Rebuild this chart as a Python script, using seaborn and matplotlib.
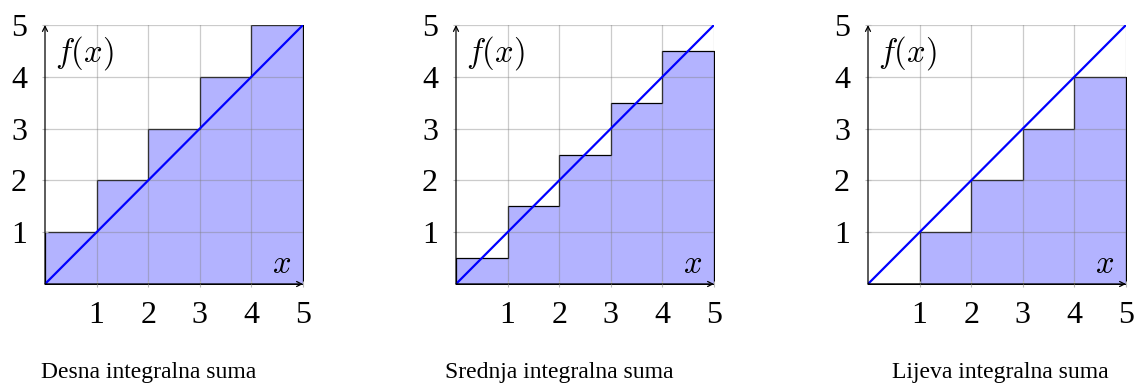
import numpy as np
import matplotlib
matplotlib.use("Agg")
import matplotlib.pyplot as plt
import seaborn as sns

# ---- data ----
bin_edges = [0, 1, 2, 3, 4, 5]
bin_left = [0, 1, 2, 3, 4]
desna_vals = [1, 2, 3, 4, 5]
srednja_vals = [0.5, 1.5, 2.5, 3.5, 4.5]
lijeva_vals = [0, 1, 2, 3, 4]
line_x = [0, 5]
line_y = [0, 5]
tick_vals = [1, 2, 3, 4, 5]
tick_labels = ["1", "2", "3", "4", "5"]
captions = ["Desna integralna suma", "Srednja integralna suma", "Lijeva integralna suma"]
panel_vals = [desna_vals, srednja_vals, lijeva_vals]

plt.rcParams['mathtext.fontset'] = 'cm'
plt.rcParams['font.family'] = ['Liberation Serif', 'DejaVu Serif']

W, H = 1137, 383
fig = plt.figure(figsize=(W / 100, H / 100), dpi=100)

panel_left_px = [45, 456, 868]
caption_cx_px = [149, 559, 1000]
ax_w_px, ax_h_px = 258, 259
ax_top_px = 25

fill_color = '#b3b3ff'

for i, vals in enumerate(panel_vals):
    ax = fig.add_axes([panel_left_px[i] / W, 1 - (ax_top_px + ax_h_px) / H,
                       ax_w_px / W, ax_h_px / H])
    mids = [l + 0.5 for l in bin_left]
    sns.histplot(x=mids, weights=vals, bins=bin_edges, element='step', fill=True,
                 color=fill_color, edgecolor='black', linewidth=0.9, alpha=1,
                 ax=ax, zorder=1)
    sns.lineplot(x=line_x, y=line_y, color='#0000ff', linewidth=1.6, ax=ax, zorder=3)
    ax.set_xlim(0, 5)
    ax.set_ylim(0, 5)
    ax.set_xticks(tick_vals)
    ax.set_yticks(tick_vals)
    ax.set_xticklabels(tick_labels, fontsize=23)
    ax.set_yticklabels(tick_labels, fontsize=23)
    ax.set_xlabel('')
    ax.set_ylabel('')
    ax.set_axisbelow('line')
    ax.grid(True, color='#7f7f7f', alpha=0.4, linewidth=0.9)
    ax.tick_params(axis='both', length=4, direction='inout', color='#bbbbbb', width=0.8)
    ax.tick_params(axis='x', pad=10)
    ax.tick_params(axis='y', pad=11)
    for s in ax.spines.values():
        s.set_visible(False)
    ax.set_facecolor('none')
    # axis lines with arrows
    ax.annotate('', xy=(5, 0), xytext=(0, 0), xycoords='data',
                arrowprops=dict(arrowstyle='->', color='black', lw=0.9,
                                shrinkA=0, shrinkB=0, mutation_scale=9),
                annotation_clip=False, zorder=4)
    ax.annotate('', xy=(0, 5), xytext=(0, 0), xycoords='data',
                arrowprops=dict(arrowstyle='->', color='black', lw=0.9,
                                shrinkA=0, shrinkB=0, mutation_scale=9),
                annotation_clip=False, zorder=4)
    ax.text(0.2, 4.45, r'$f(x)$', fontsize=23.5, ha='left', va='center', zorder=5)
    ax.text(4.77, 0.37, r'$x$', fontsize=23.5, ha='right', va='center', zorder=5)
    fig.text(caption_cx_px[i] / W, 1 - 378 / H, captions[i], fontsize=17,
             ha='center', va='baseline')

fig.savefig('out.png', dpi=100)
